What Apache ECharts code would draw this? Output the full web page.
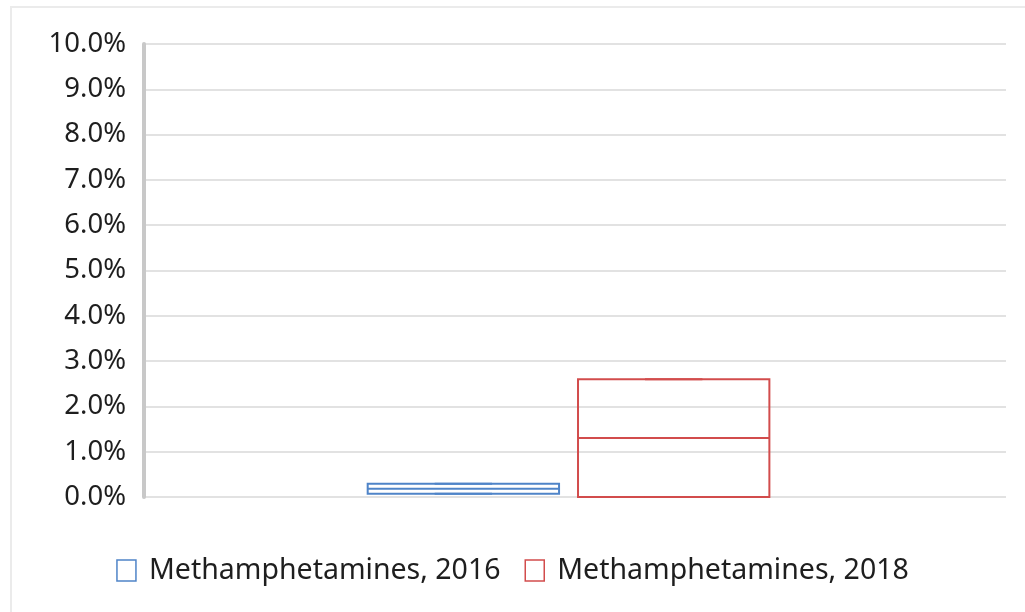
<!DOCTYPE html>
<html>
<head>
<meta charset="utf-8">
<script src="https://cdn.jsdelivr.net/npm/echarts@6/dist/echarts.min.js"></script>
<style>
  html, body { margin: 0; padding: 0; background: #fff; }
  #wrap { position: relative; width: 1025px; height: 612px; overflow: hidden; }
  #frame { position: absolute; left: 10px; top: 6px; width: 1030px; height: 620px; border: 2px solid #ebebeb; box-sizing: border-box; }
  #chart { position: absolute; left: 0; top: 0; width: 1025px; height: 612px; }
</style>
</head>
<body>
<div id="wrap">
  <div id="frame"></div>
  <div id="chart"></div>
</div>
<script>
// one category, two boxes (values in %)
const categories = ['Methamphetamines']
const seriesNames = ['Methamphetamines, 2016', 'Methamphetamines, 2018']
const seriesColors = ['#4f84c8', '#d24c4c']
// min, Q1, median, Q3, max
const box2016 = [0.07, 0.07, 0.18, 0.29, 0.29]
const box2018 = [0.0, 0.0, 1.3, 2.6, 2.6]
const boxes = [box2016, box2018]

const FONT = '"Noto Sans", "Open Sans", sans-serif'

// draws one box with whiskers, width taken from the category band
function renderBox(params, api) {
  const band = api.size([1, 0])[0]
  const boxW = band * 0.222
  const gap = band * 0.022
  const side = params.seriesIndex === 0 ? -1 : 1
  const cx = api.coord([api.value(0), 0])[0] - band * 0.0075 + side * (gap / 2 + boxW / 2)
  const y = i => api.coord([api.value(0), api.value(i)])[1]
  const yMin = y(1), yQ1 = y(2), yMed = y(3), yQ3 = y(4), yMax = y(5)
  const capW = boxW * 0.3
  const style = { stroke: api.visual('color'), lineWidth: 2, fill: null }
  return {
    type: 'group',
    children: [
      { type: 'rect', shape: { x: cx - boxW / 2, y: yQ3, width: boxW, height: yQ1 - yQ3 }, style: style },
      { type: 'line', shape: { x1: cx - boxW / 2, y1: yMed, x2: cx + boxW / 2, y2: yMed }, style: style },
      { type: 'line', shape: { x1: cx, y1: yQ3, x2: cx, y2: yMax }, style: style },
      { type: 'line', shape: { x1: cx, y1: yQ1, x2: cx, y2: yMin }, style: style },
      { type: 'line', shape: { x1: cx - capW / 2, y1: yMax, x2: cx + capW / 2, y2: yMax }, style: style },
      { type: 'line', shape: { x1: cx - capW / 2, y1: yMin, x2: cx + capW / 2, y2: yMin }, style: style }
    ]
  }
}

const myChart = echarts.init(document.getElementById('chart'), null, { renderer: 'canvas' })
const option = {
  animation: false,
  textStyle: { fontFamily: FONT },
  grid: { left: 144, right: 19, top: 44, bottom: 115, containLabel: false },
  legend: {
    bottom: 22,
    left: 'center',
    itemWidth: 19,
    itemHeight: 21,
    itemGap: 24,
    textStyle: { fontSize: 28.5, color: '#1e1e1e', fontFamily: FONT, padding: [0, 0, 0, 8] },
    data: seriesNames.map((n, i) => ({
      name: n,
      icon: 'rect',
      itemStyle: { color: '#fff', borderColor: seriesColors[i], borderWidth: 1.5 }
    }))
  },
  xAxis: {
    type: 'category',
    data: categories,
    axisLine: { show: false },
    axisTick: { show: false },
    axisLabel: { show: false },
    splitLine: { show: false }
  },
  yAxis: {
    type: 'value',
    min: 0,
    max: 10,
    interval: 1,
    axisLine: { show: true, lineStyle: { color: '#c8c8c8', width: 4 } },
    axisTick: { show: false },
    axisLabel: {
      margin: 18,
      fontSize: 27.5,
      color: '#1e1e1e',
      fontFamily: FONT,
      formatter: v => v.toFixed(1) + '%'
    },
    splitLine: { lineStyle: { color: '#e2e2e2', width: 2 } }
  },
  series: boxes.map((b, i) => ({
    name: seriesNames[i],
    type: 'custom',
    renderItem: renderBox,
    itemStyle: { color: seriesColors[i] },
    encode: { x: 0, y: [1, 2, 3, 4, 5] },
    data: [[0].concat(b)]
  }))
}
option && myChart.setOption(option)
</script>
</body>
</html>
